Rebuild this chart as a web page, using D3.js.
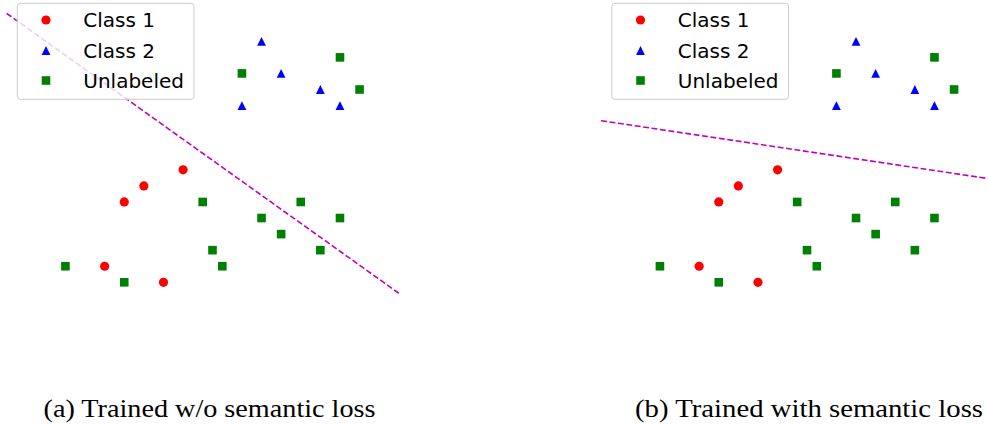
<!DOCTYPE html>
<html><head><meta charset="utf-8">
<script src="https://cdn.jsdelivr.net/npm/d3@7"></script>
<style>body{margin:0;background:#fff}svg{display:block}</style>
</head><body>
<script>
// data (grid units)
const class1 = [[3,5],[4,6],[6,7],[2,1],[5,0]];
const class2 = [[10,15],[11,13],[13,12],[9,11],[14,11]];
const unlabeled = [[9,13],[14,14],[15,12],[7,5],[10,4],[12,5],[14,4],[11,3],[7.5,2],[13,2],[0,1],[8,1],[3,0]];
const boundaryA = [[-3,16.74],[17,-0.68]];
const boundaryB = [[-3,10.06],[17,6.41]];
const legendLabels = ["Class 1","Class 2","Unlabeled"];
const captions = ["(a) Trained w/o semantic loss","(b) Trained with semantic loss"];

const W=988,H=425;
const svg=d3.select("body").append("svg").attr("width",W).attr("height",H);
const x=d3.scaleLinear().domain([-3,17]).range([6.6,398.8]);
const y=d3.scaleLinear().domain([0,15]).range([282.3,41.3]);
const tri=s=>`M0,${-s}L${-s},${s}L${s},${s}Z`;
const line=d3.line().x(d=>x(d[0])).y(d=>y(d[1]));

function panel(off,boundary,caption,capX,capW){
  const g=svg.append("g").attr("transform",`translate(${off},0)`);
  g.selectAll("rect.u").data(unlabeled).join("rect").attr("class","u")
    .attr("x",d=>x(d[0])-4.3).attr("y",d=>y(d[1])-4.3).attr("width",8.6).attr("height",8.6).attr("fill","#008000");
  g.selectAll("circle.c1").data(class1).join("circle").attr("class","c1")
    .attr("cx",d=>x(d[0])).attr("cy",d=>y(d[1])).attr("r",4.6).attr("fill","#ff0000");
  g.selectAll("path.c2").data(class2).join("path").attr("class","c2")
    .attr("transform",d=>`translate(${x(d[0])},${y(d[1])})`).attr("d",tri(4.4)).attr("fill","#0000ff");
  g.append("path").attr("d",line(boundary)).attr("fill","none").attr("stroke","#bf00bf")
    .attr("stroke-width",1.6).attr("stroke-dasharray","5.9,2.6");
  // legend
  const lg=g.append("g");
  lg.append("rect").attr("x",17.3).attr("y",3.3).attr("width",176.7).attr("height",96)
    .attr("rx",3).attr("fill","#fff").attr("fill-opacity",0.8).attr("stroke","#cccccc").attr("stroke-width",1);
  const ly=[20,50.5,80.5];
  lg.append("circle").attr("cx",46).attr("cy",ly[0]).attr("r",4.6).attr("fill","#ff0000");
  lg.append("path").attr("transform",`translate(46,${ly[1]})`).attr("d",tri(4.4)).attr("fill","#0000ff");
  lg.append("rect").attr("x",46-4.3).attr("y",ly[2]-4.3).attr("width",8.6).attr("height",8.6).attr("fill","#008000");
  lg.selectAll("text").data(legendLabels).join("text")
    .attr("x",83.3).attr("y",(d,i)=>ly[i]+7.3)
    .attr("font-family","DejaVu Sans").attr("font-size",20).attr("fill","#000").text(d=>d);
  svg.append("text").attr("x",capX).attr("y",417).attr("font-family","Liberation Serif, Times New Roman, serif")
    .attr("font-size",25).attr("textLength",capW).attr("lengthAdjust","spacingAndGlyphs")
    .attr("fill","#000").text(caption);
}
panel(0,boundaryA,captions[0],43.5,332);
panel(594.5,boundaryB,captions[1],635,348);
</script>
</body></html>
